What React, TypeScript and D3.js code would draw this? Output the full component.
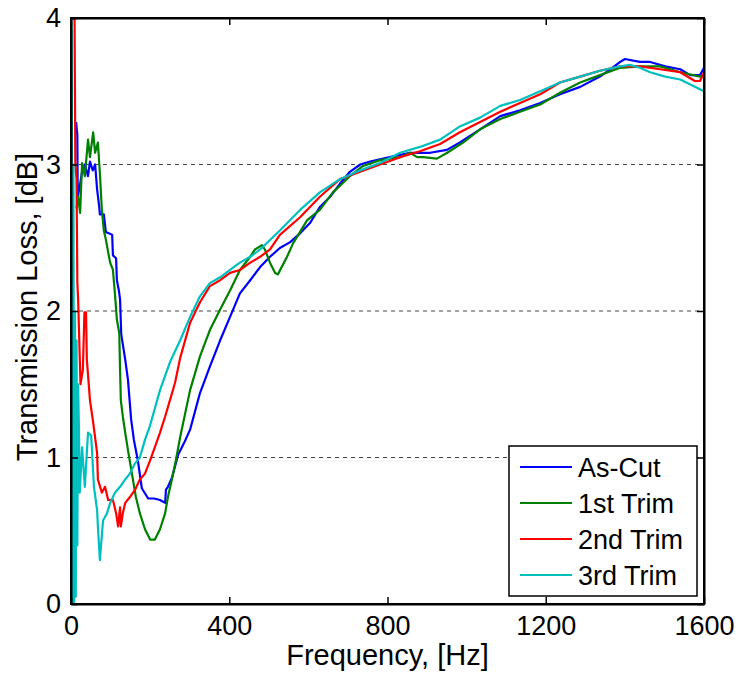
import { useEffect, useRef } from 'react'
import * as d3 from 'd3'

// [frequency Hz, transmission loss dB]
const asCut: [number, number][] = [
  [13, 3.29], [16, 3.2], [17, 2.78], [22, 2.85], [28, 2.95], [35, 3.0], [43, 2.92], [48, 3.02],
  [55, 2.96], [61, 3.0], [66, 2.83], [71, 2.72], [73, 2.66], [83, 2.66], [88, 2.54], [104, 2.52],
  [106, 2.38], [114, 2.36], [116, 2.21], [121, 2.14], [124, 2.08], [127, 1.84], [137, 1.67],
  [144, 1.53], [152, 1.26], [159, 1.12], [169, 0.98], [179, 0.79], [195, 0.72], [210, 0.72],
  [225, 0.71], [238, 0.69], [240, 0.78], [245, 0.8], [255, 0.86], [271, 1.02], [286, 1.1],
  [301, 1.19], [314, 1.32], [326, 1.44], [351, 1.62], [377, 1.8], [402, 1.96], [427, 2.12],
  [453, 2.21], [478, 2.3], [503, 2.37], [528, 2.43], [554, 2.47], [579, 2.53], [604, 2.6],
  [629, 2.71], [655, 2.78], [680, 2.87], [705, 2.95], [731, 3.0], [756, 3.02], [806, 3.05],
  [857, 3.08], [908, 3.08], [950, 3.1], [983, 3.15], [1034, 3.24], [1085, 3.33], [1135, 3.37],
  [1186, 3.42], [1236, 3.48], [1287, 3.53], [1337, 3.6], [1363, 3.65], [1388, 3.7], [1400, 3.72],
  [1438, 3.7], [1464, 3.7], [1502, 3.67], [1540, 3.65], [1565, 3.61], [1590, 3.61], [1600, 3.66],
]

const firstTrim: [number, number][] = [
  [14, 2.7], [18, 2.78], [23, 2.67], [28, 3.01], [35, 2.92], [43, 3.17], [48, 3.05], [56, 3.22],
  [61, 3.08], [68, 3.15], [73, 2.94], [78, 2.69], [83, 2.55], [88, 2.49], [94, 2.4], [99, 2.33],
  [106, 2.28], [111, 2.12], [116, 1.94], [122, 1.85], [124, 1.6], [126, 1.39], [131, 1.28],
  [137, 1.17], [144, 1.05], [154, 0.89], [164, 0.73], [174, 0.62], [187, 0.51], [200, 0.44],
  [212, 0.44], [225, 0.51], [238, 0.62], [245, 0.73], [255, 0.85], [265, 0.98], [276, 1.14],
  [301, 1.46], [326, 1.69], [351, 1.87], [377, 2.01], [402, 2.14], [427, 2.28], [453, 2.37],
  [465, 2.42], [483, 2.45], [490, 2.42], [503, 2.33], [516, 2.26], [523, 2.25], [546, 2.37],
  [561, 2.46], [597, 2.62], [629, 2.69], [662, 2.81], [705, 2.92], [738, 2.99], [781, 3.03],
  [832, 3.05], [857, 3.08], [875, 3.05], [890, 3.05], [925, 3.04], [951, 3.08], [991, 3.15],
  [1034, 3.24], [1085, 3.31], [1135, 3.36], [1186, 3.41], [1236, 3.49], [1287, 3.56],
  [1337, 3.61], [1388, 3.66], [1438, 3.67], [1489, 3.67], [1540, 3.63], [1590, 3.6], [1600, 3.61],
]

const secondTrim: [number, number][] = [
  [5, 4.0], [9, 4.0], [11, 3.0], [14, 2.9], [16, 2.2], [18, 2.08], [24, 1.5], [30, 1.6],
  [34, 1.99], [38, 1.99], [40, 1.67], [48, 1.39], [56, 1.24], [66, 1.03], [68, 0.85], [78, 0.76],
  [86, 0.8], [94, 0.71], [106, 0.71], [114, 0.62], [119, 0.53], [124, 0.66], [126, 0.53],
  [131, 0.62], [137, 0.69], [149, 0.73], [162, 0.78], [174, 0.85], [187, 0.89], [200, 0.98],
  [212, 1.07], [225, 1.17], [238, 1.28], [250, 1.39], [263, 1.51], [276, 1.68], [301, 1.92],
  [326, 2.06], [351, 2.17], [377, 2.21], [402, 2.26], [427, 2.28], [453, 2.33], [478, 2.37],
  [503, 2.42], [528, 2.52], [579, 2.64], [629, 2.78], [680, 2.9], [731, 2.95], [781, 3.0],
  [832, 3.05], [882, 3.09], [933, 3.14], [983, 3.22], [1034, 3.29], [1085, 3.36], [1135, 3.42],
  [1186, 3.48], [1236, 3.56], [1287, 3.6], [1337, 3.64], [1388, 3.67], [1438, 3.67],
  [1489, 3.65], [1540, 3.63], [1577, 3.57], [1590, 3.57], [1600, 3.63],
]

const thirdTrim: [number, number][] = [
  [0, 4.0], [2, 3.9], [4, 0.0], [6, 3.0], [8, 0.0], [10, 2.0], [12, 0.05], [14, 1.8], [16, 0.4],
  [18, 1.5], [20, 1.21], [22, 0.76], [28, 1.07], [35, 0.8], [43, 1.17], [51, 1.15], [58, 0.8],
  [66, 0.64], [68, 0.53], [73, 0.3], [81, 0.57], [91, 0.62], [99, 0.69], [111, 0.76], [124, 0.8],
  [137, 0.85], [149, 0.89], [162, 0.96], [174, 1.0], [187, 1.12], [200, 1.22], [225, 1.46],
  [250, 1.65], [276, 1.8], [301, 1.96], [326, 2.1], [351, 2.19], [377, 2.23], [402, 2.28],
  [427, 2.33], [453, 2.37], [478, 2.42], [528, 2.55], [579, 2.69], [629, 2.81], [680, 2.9],
  [731, 2.96], [781, 3.01], [832, 3.08], [882, 3.12], [933, 3.17], [983, 3.26], [1034, 3.32],
  [1085, 3.4], [1135, 3.44], [1186, 3.5], [1236, 3.56], [1287, 3.6], [1337, 3.64], [1388, 3.67],
  [1413, 3.68], [1438, 3.66], [1464, 3.63], [1502, 3.6], [1540, 3.58], [1577, 3.53], [1600, 3.5],
]

const seriesNames = ['As-Cut', '1st Trim', '2nd Trim', '3rd Trim']
const seriesColors = ['#0000ff', '#008000', '#ff0000', '#00bfbf']
const seriesData = [asCut, firstTrim, secondTrim, thirdTrim]

const xTicks = [0, 400, 800, 1200, 1600]
const yTicks = [0, 1, 2, 3, 4]
const gridValues = [1, 2, 3]

function App() {
  const ref = useRef<SVGSVGElement | null>(null)

  useEffect(() => {
    if (!ref.current) return
    const svg = d3.select(ref.current)
    svg.selectAll('*').remove()

    const width = 741
    const height = 674
    const margin = { top: 18, right: 37, bottom: 70, left: 71 }
    const w = width - margin.left - margin.right
    const h = height - margin.top - margin.bottom
    const font = 'Arial, "Liberation Sans", sans-serif'

    const x = d3.scaleLinear().domain([0, 1600]).range([0, w])
    const y = d3.scaleLinear().domain([0, 4]).range([h, 0])

    const g = svg.append('g').attr('transform', `translate(${margin.left},${margin.top})`)

    g.append('clipPath').attr('id', 'plotclip')
      .append('rect').attr('width', w).attr('height', h)

    // dashed horizontal grid
    g.selectAll('.grid')
      .data(gridValues)
      .enter()
      .append('line')
      .attr('x1', 0)
      .attr('x2', w)
      .attr('y1', d => y(d))
      .attr('y2', d => y(d))
      .attr('stroke', '#444')
      .attr('stroke-width', 1.2)
      .attr('stroke-dasharray', '4,4')

    const line = d3.line<[number, number]>()
      .x(d => x(d[0]))
      .y(d => y(d[1]))

    const lines = g.append('g').attr('clip-path', 'url(#plotclip)')
    seriesData.forEach((data, i) => {
      lines.append('path')
        .datum(data)
        .attr('fill', 'none')
        .attr('stroke', seriesColors[i])
        .attr('stroke-width', 2.2)
        .attr('stroke-linejoin', 'round')
        .attr('d', line)
    })

    // axes: inward ticks on all four sides
    const tick = 7
    const fmt = d3.format('d')
    const axB = g.append('g').attr('transform', `translate(0,${h})`)
      .call(d3.axisBottom(x).tickValues(xTicks).tickSizeInner(-tick).tickSizeOuter(0).tickPadding(12).tickFormat(fmt))
    const axT = g.append('g')
      .call(d3.axisTop(x).tickValues(xTicks).tickSizeInner(-tick).tickSizeOuter(0).tickFormat(() => ''))
    const axL = g.append('g')
      .call(d3.axisLeft(y).tickValues(yTicks).tickSizeInner(-tick).tickSizeOuter(0).tickPadding(10).tickFormat(fmt))
    const axR = g.append('g').attr('transform', `translate(${w},0)`)
      .call(d3.axisRight(y).tickValues(yTicks).tickSizeInner(-tick).tickSizeOuter(0).tickFormat(() => ''))

    ;[axB, axT, axL, axR].forEach(a => {
      a.selectAll('path').attr('stroke', '#000').attr('stroke-width', 2)
      a.selectAll('line').attr('stroke', '#000').attr('stroke-width', 1.5)
      a.selectAll('text').attr('font-family', font).attr('font-size', 27).attr('fill', '#000')
    })

    g.append('rect')
      .attr('width', w).attr('height', h)
      .attr('fill', 'none').attr('stroke', '#000').attr('stroke-width', 2)

    // axis labels
    svg.append('text')
      .attr('x', margin.left + w / 2)
      .attr('y', 665)
      .attr('text-anchor', 'middle')
      .attr('font-family', font)
      .attr('font-size', 29)
      .text('Frequency, [Hz]')

    svg.append('text')
      .attr('transform', `translate(37,307) rotate(-90)`)
      .attr('text-anchor', 'middle')
      .attr('font-family', font)
      .attr('font-size', 29)
      .text('Transmission Loss, [dB]')

    // legend
    const lg = svg.append('g').attr('transform', 'translate(509,446)')
    lg.append('rect')
      .attr('width', 188).attr('height', 150)
      .attr('fill', '#fff').attr('stroke', '#000').attr('stroke-width', 1.5)
    seriesNames.forEach((name, i) => {
      const yy = 21 + i * 36
      lg.append('line')
        .attr('x1', 11).attr('x2', 63)
        .attr('y1', yy).attr('y2', yy)
        .attr('stroke', seriesColors[i]).attr('stroke-width', 2)
      lg.append('text')
        .attr('x', 69).attr('y', yy + 10)
        .attr('font-family', font)
        .attr('font-size', 27)
        .text(name)
    })
  }, [])

  return (
    <svg
      ref={ref}
      width={741}
      height={674}
      style={{ position: 'absolute', left: 0, top: 0, background: '#fff' }}
    />
  )
}

export default App
